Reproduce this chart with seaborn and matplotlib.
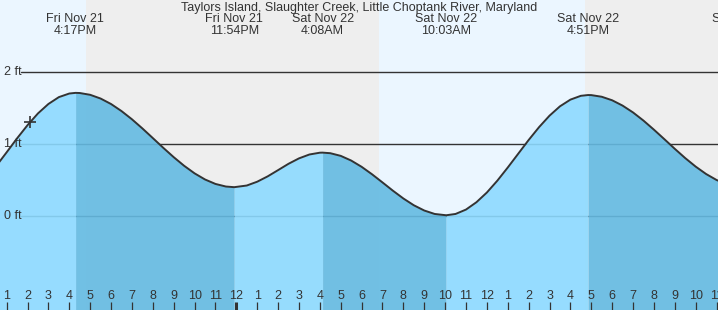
import matplotlib
matplotlib.use("Agg")
import matplotlib.pyplot as plt
import matplotlib.transforms as mtransforms
import seaborn as sns
import pandas as pd

# ---------------- data ----------------
title = "Taylors Island, Slaughter Creek, Little Choptank River, Maryland"

# hours counted from Fri Nov 21 00:00, tide height in ft
hours = [12.5, 13.0, 13.5, 14.0, 14.5, 15.0, 15.5, 16.0, 16.3, 16.5,
         17.0, 17.5, 18.0, 18.5, 19.0, 19.5, 20.0, 20.5, 21.0, 21.5,
         22.0, 22.5, 23.0, 23.5, 23.9, 24.5, 25.0, 25.5, 26.0, 26.5,
         27.0, 27.5, 28.0, 28.13, 28.5, 29.0, 29.5, 30.0, 30.5, 31.0,
         31.5, 32.0, 32.5, 33.0, 33.5, 34.05, 34.5, 35.0, 35.5, 36.0,
         36.5, 37.0, 37.5, 38.0, 38.5, 39.0, 39.5, 40.0, 40.5, 40.85,
         41.0, 41.5, 42.0, 42.5, 43.0, 43.5, 44.0, 44.5, 45.0, 45.5,
         46.0, 46.5, 47.0, 47.5]
heights = [0.694, 0.885, 1.079, 1.262, 1.425, 1.556, 1.651, 1.701, 1.710, 1.708,
           1.683, 1.631, 1.555, 1.457, 1.343, 1.216, 1.082, 0.947, 0.817, 0.697,
           0.592, 0.507, 0.445, 0.409, 0.400, 0.423, 0.476, 0.550, 0.637, 0.725,
           0.800, 0.854, 0.879, 0.880, 0.872, 0.835, 0.770, 0.683, 0.579, 0.466,
           0.351, 0.243, 0.149, 0.076, 0.028, 0.010, 0.028, 0.089, 0.191, 0.326,
           0.490, 0.673, 0.864, 1.055, 1.234, 1.393, 1.523, 1.616, 1.669, 1.680,
           1.679, 1.656, 1.607, 1.533, 1.438, 1.325, 1.199, 1.067, 0.933, 0.804,
           0.686, 0.583, 0.500, 0.440]

# tide events (highs / lows)
event_hours = [16.28, 23.9, 28.13, 34.05, 40.85, 48.35]
event_days = ["Fri Nov 21", "Fri Nov 21", "Sat Nov 22", "Sat Nov 22", "Sat Nov 22", "Sun Nov 23"]
event_times = ["4:17PM", "11:54PM", "4:08AM", "10:03AM", "4:51PM", "12:21AM"]

# fill segment boundaries (tide turning points)
segment_bounds = [12.5, 16.3, 23.9, 28.13, 34.05, 40.85, 47.5]

# daylight / night background spans
day_spans = [(12.0, 16.79), (30.83, 40.72)]
night_spans = [(16.79, 30.83), (40.72, 48.0)]

# current time marker
now_hour, now_height = 14.12, 1.31

# y reference levels
levels = [0, 1, 2]
level_labels = ["0 ft", "1 ft", "2 ft"]

# x ticks (hours)
tick_hours = list(range(13, 48))
tick_labels = [str(h % 12 if h % 12 else 12) for h in tick_hours]

# ---------------- style ----------------
sns.set_style("white")
plt.rcParams["font.family"] = ["Liberation Sans", "DejaVu Sans"]
TXT = "#333333"

fig = plt.figure(figsize=(7.18, 3.10), dpi=100)
ax = fig.add_axes([0, 0, 1, 1])
XMIN, XMAX = 12.68, 47.07
YMIN, YMAX = -1.306, 3.0

for a, b in day_spans:
    ax.axvspan(a, b, color="#ebf6ff", lw=0, zorder=0)
for a, b in night_spans:
    ax.axvspan(a, b, color="#eeeeee", lw=0, zorder=0)

for lv in levels:
    ax.axhline(lv, xmin=21 / 718, xmax=1, color=TXT, lw=1.0, zorder=1)

df = pd.DataFrame({"hour": hours, "height": heights})
for a, b in zip(segment_bounds[:-1], segment_bounds[1:]):
    seg = df[(df.hour >= a) & (df.hour <= b)]
    rising = seg.height.iloc[-1] > seg.height.iloc[0]
    col = "#8ddaff" if rising else "#64bae2"
    ax.fill_between(seg.hour, seg.height, YMIN - 1, color=col, alpha=0.9,
                    lw=0, antialiased=False, zorder=2)

sns.lineplot(data=df, x="hour", y="height", ax=ax, color=TXT, lw=1.4,
             sort=True, zorder=3)
ax.plot([now_hour], [now_height], marker="+", ms=8, mew=1.2, color=TXT, zorder=4)

ax.set_xlim(XMIN, XMAX)
ax.set_ylim(YMIN, YMAX)
ax.set_axis_off()

# y labels
ytrans = mtransforms.blended_transform_factory(ax.transAxes, ax.transData)
for lv, lab in zip(levels, level_labels):
    ax.text(4 / 718, lv, lab, transform=ytrans, ha="left", va="center",
            fontsize=9, color=TXT, zorder=5)

# x ticks
xtrans = mtransforms.blended_transform_factory(ax.transData, ax.transAxes)
for h, lab in zip(tick_hours, tick_labels):
    w = 2.2 if h == 24 else 0.9
    ax.plot([h, h], [0, 8 / 310], transform=xtrans, color=TXT, lw=w,
            solid_capstyle="butt", zorder=5, clip_on=False)
    ax.text(h, 1 - 296 / 310, lab, transform=xtrans, ha="center", va="center",
            fontsize=9, color=TXT, zorder=5)

# event labels
for h, d, t in zip(event_hours, event_days, event_times):
    ax.text(h, 1 - 19 / 310, d, transform=xtrans, ha="center", va="center",
            fontsize=9, color=TXT, zorder=5, clip_on=True)
    ax.text(h, 1 - 31 / 310, t, transform=xtrans, ha="center", va="center",
            fontsize=9, color=TXT, zorder=5, clip_on=True)

ax.text(0.5, 1 - 8 / 310, title, transform=ax.transAxes, ha="center",
        va="center", fontsize=9, color=TXT, zorder=6)

fig.savefig("out.png", dpi=100)
